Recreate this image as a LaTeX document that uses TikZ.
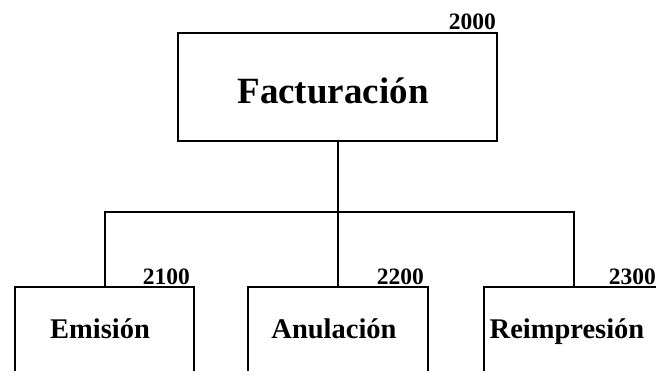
\documentclass[tikz,border=0pt]{standalone}
\usepackage{fontspec}
\setmainfont{Liberation Serif}
\begin{document}
\begin{tikzpicture}[x=1pt,y=-1pt,
  box/.style={draw=black,line width=2pt,fill=none,inner sep=0pt,anchor=north west},
  conn/.style={draw=black,line width=2pt},
  num/.style={font=\fontsize{23.5}{24}\selectfont\bfseries,inner sep=0pt,anchor=base east},
  lbl/.style={font=\fontsize{28.5}{30}\selectfont\bfseries,inner sep=0pt,anchor=base},
  biglbl/.style={font=\fontsize{37}{40}\selectfont\bfseries,inner sep=0pt,anchor=base}]
\useasboundingbox (0,0) rectangle (656,370);
\clip (0,0) rectangle (656,370);
\fill[white] (0,0) rectangle (656,370);
% top box
\node[box,minimum width=319pt,minimum height=108pt] (top) at (177,32) {};
\node[biglbl] (ttop) at (333,103) {Facturación};
\node[num] (ntop) at (496,29) {2000};
% children
\node[box,minimum width=179pt,minimum height=110pt] (b1) at (14,286) {};
\node[box,minimum width=180pt,minimum height=110pt] (b2) at (246.5,286) {};
\node[box,minimum width=180pt,minimum height=110pt] (b3) at (483,286) {};
\node[lbl] (t1) at (100,338) {Emisión};
\node[lbl] (t2) at (334,338) {Anulación};
\node[lbl] (t3) at (567,338) {Reimpresión};
\node[num] (n1) at (190,284) {2100};
\node[num] (n2) at (424,284) {2200};
\node[num] (n3) at (656,284) {2300};
% connectors
\coordinate (j) at (top.south |- 0,212);
\draw[conn] (top.south) -- (j);
\draw[conn] (b1.north) |- (j) -| (b3.north);
\draw[conn] (j) -- (b2.north);
\end{tikzpicture}
\end{document}
